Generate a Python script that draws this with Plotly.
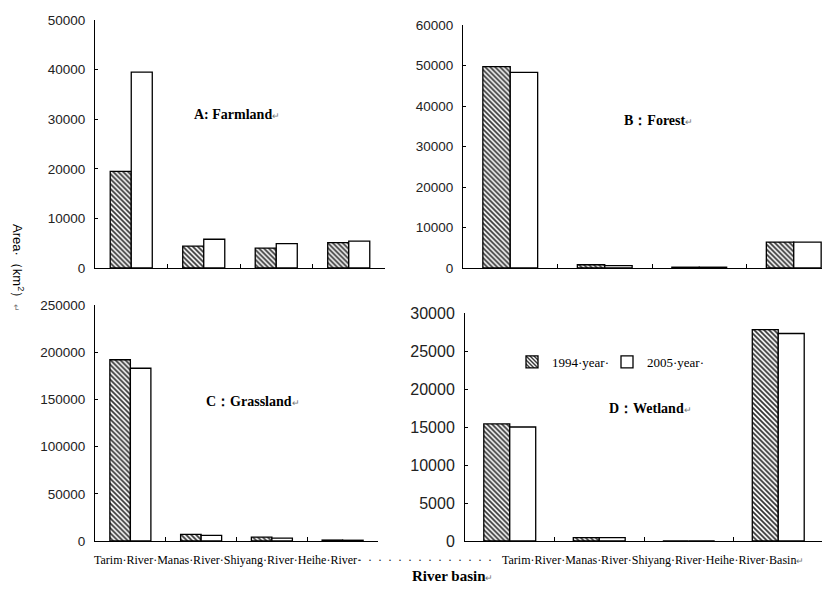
import plotly.graph_objects as go

# ---------------- data ----------------
categories = ["Tarim River", "Manas River", "Shiyang River", "Heihe River"]
years = ["1994·year·", "2005·year·"]

farmland_1994 = [19500, 4400, 4000, 5100]
farmland_2005 = [39500, 5800, 4900, 5400]
forest_1994 = [49700, 800, 200, 6400]
forest_2005 = [48300, 600, 200, 6400]
grassland_1994 = [192000, 7000, 4000, 1000]
grassland_2005 = [183000, 6000, 3000, 800]
wetland_1994 = [15400, 450, 0, 27800]
wetland_2005 = [15000, 450, 0, 27300]

panel_titles = ["A: Farmland", "B：Forest", "C：Grassland", "D：Wetland"]
y_max = [50000, 60000, 250000, 30000]
y_step = [10000, 10000, 50000, 5000]

W, H = 830, 592
OFF = 8  # page body margin offset


def px(x):
    return (x - OFF) / W


def py(y):
    return 1 - (y - OFF) / H


# panel geometry (pixels): x0, x1, ytop, ybottom, x-range end, tick font size
panels = [
    dict(x0=95, x1=385, yt=20, yb=268, xend=3.5, fs=13.5),
    dict(x0=463, x1=830, yt=25, yb=268, xend=3.5 - 11 / 94.5, fs=13.5),
    dict(x0=95, x1=378, yt=305, yb=541, xend=3.5, fs=13.5),
    dict(x0=465, x1=823, yt=313, yb=541, xend=3.5, fs=16),
]

series = [
    (farmland_1994, farmland_2005),
    (forest_1994, forest_2005),
    (grassland_1994, grassland_2005),
    (wetland_1994, wetland_2005),
]

fig = go.Figure()
for i, (s94, s05) in enumerate(series):
    ax = "" if i == 0 else str(i + 1)
    fig.add_trace(go.Bar(
        x=categories, y=s94, name=years[0], xaxis="x" + ax, yaxis="y" + ax,
        marker=dict(color="white", line=dict(color="black", width=1.3),
                    pattern=dict(shape="\\", size=3.5, solidity=0.5, fgcolor="#333333", bgcolor="white")),
        legendgroup="a", showlegend=(i == 0), legend="legend",
    ))
    fig.add_trace(go.Bar(
        x=categories, y=s05, name=years[1], xaxis="x" + ax, yaxis="y" + ax,
        marker=dict(color="white", line=dict(color="black", width=1.3)),
        legendgroup="b", showlegend=(i == 0), legend="legend2",
    ))

legend_style = dict(orientation="h", xanchor="left", yanchor="middle",
                    font=dict(family="Liberation Serif", size=13, color="black"),
                    bgcolor="rgba(0,0,0,0)", borderwidth=0)

layout = dict(
    template="none",
    width=W, height=H,
    margin=dict(l=0, r=0, t=0, b=0, pad=0, autoexpand=False),
    paper_bgcolor="white", plot_bgcolor="white",
    barmode="group", bargap=0.42, bargroupgap=0,
    showlegend=True,
    legend=dict(x=px(512), y=py(362), **legend_style),
    legend2=dict(x=px(607), y=py(362), **legend_style),
)
for i, p in enumerate(panels):
    ax = "" if i == 0 else str(i + 1)
    layout["xaxis" + ax] = dict(
        domain=[px(p["x0"]), min(1.0, px(p["x1"]))], anchor="y" + ax, type="category",
        range=[-0.5, p["xend"]], showticklabels=False, ticks="inside", ticklen=4,
        tickson="boundaries", tickcolor="black", tickwidth=1,
        showline=True, linecolor="black", linewidth=1, showgrid=False, zeroline=False,
        fixedrange=True, automargin=False,
    )
    layout["yaxis" + ax] = dict(
        domain=[py(p["yb"]), py(p["yt"])], anchor="x" + ax,
        range=[0, y_max[i]], dtick=y_step[i], tick0=0, ticks="inside", ticklen=3,
        tickcolor="black", tickwidth=1, showline=True, linecolor="black", linewidth=1,
        showgrid=False, zeroline=False, ticklabelstandoff=6, automargin=False,
        tickfont=dict(family="Liberation Sans", size=p["fs"], color="#222"),
        tickformat="d",
    )
fig.update_layout(**layout)

ret = "<span style='font-size:9px;color:#777'>↵</span>"
title_pos = [(237, 115), (658, 120), (253, 401), (650, 408)]
for t, (x, y) in zip(panel_titles, title_pos):
    fig.add_annotation(text="<b>" + t + "</b>" + ret, x=px(x), y=py(y), xref="paper", yref="paper",
                       showarrow=False, xanchor="center", yanchor="middle",
                       font=dict(family="Liberation Serif", size=14, color="black"))

# category text row beneath the lower panels
left_text = "·".join(c.replace(" ", "·") for c in categories) + "·"
right_text = "·".join(c.replace(" ", "·") for c in categories) + "·Basin"
fig.add_annotation(text=left_text, x=px(92), y=py(560), xref="paper", yref="paper",
                   showarrow=False, xanchor="left", yanchor="middle",
                   font=dict(family="Liberation Serif", size=12, color="black"))
fig.add_annotation(text="·  " * 14, x=px(428), y=py(560), xref="paper", yref="paper",
                   showarrow=False, xanchor="center", yanchor="middle",
                   font=dict(family="Liberation Serif", size=12, color="#222"))
fig.add_annotation(text=right_text + ret, x=px(806), y=py(560), xref="paper", yref="paper",
                   showarrow=False, xanchor="right", yanchor="middle",
                   font=dict(family="Liberation Serif", size=12, color="black"))

# axis titles
fig.add_annotation(text="<b>River basin</b>" + ret, x=px(452), y=py(576), xref="paper", yref="paper",
                   showarrow=False, xanchor="center", yanchor="middle",
                   font=dict(family="Liberation Serif", size=15, color="black"))
fig.add_annotation(text="Area·（km<sup>2</sup>）" + ret, x=px(18), y=py(268), xref="paper", yref="paper",
                   showarrow=False, textangle=90, xanchor="center", yanchor="middle",
                   font=dict(family="Liberation Sans", size=13, color="black"))

fig.write_html("out.html")
